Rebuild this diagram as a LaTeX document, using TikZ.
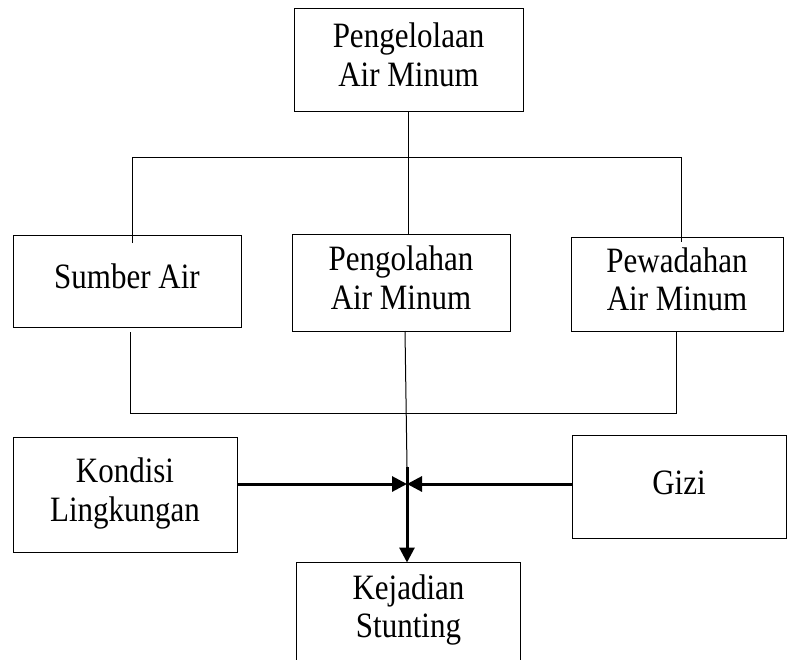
\documentclass[tikz,border=0pt]{standalone}
\usepackage{fontspec}
\usepackage{graphicx}
\setmainfont{Liberation Serif}
\usetikzlibrary{arrows.meta}
\newcommand{\stxt}[1]{\scalebox{1}[1.15]{\begin{tabular}{@{}c@{}}#1\end{tabular}}}
\begin{document}
\begin{tikzpicture}[x=1pt,y=-1pt,
  box/.style={draw, line width=1pt, inner sep=0pt, align=center,
    font=\fontsize{31}{33.5}\selectfont},
  thin/.style={line width=1pt},
  thick/.style={line width=3pt},
  tip/.style={-{Triangle[length=15pt,width=15pt]}}]
\useasboundingbox (0,0) rectangle (787,659);
% boxes
\node[box, minimum width=229pt, minimum height=103pt] (top) at (408.5,59.5) {\stxt{Pengelolaan\\Air Minum}};
\node[box, minimum width=228pt, minimum height=92pt] (sumber) at (127,281) {\raisebox{4pt}{\stxt{Sumber Air}}};
\node[box, minimum width=218pt, minimum height=97pt] (olah) at (401,282.5) {\stxt{Pengolahan\\Air Minum}};
\node[box, minimum width=212pt, minimum height=94pt] (wadah) at (677,284) {\stxt{Pewadahan\\Air Minum}};
\node[box, minimum width=224pt, minimum height=115pt] (kondisi) at (125,494.5) {\stxt{Kondisi\\Lingkungan}};
\node[box, minimum width=214pt, minimum height=103pt] (gizi) at (679,486.5) {\stxt{Gizi}};
\node[box, draw=none, minimum width=223pt, minimum height=96pt] (stunt) at (408.5,611) {\stxt{Kejadian\\Stunting}};
\draw[thin] (stunt.south west) -- (stunt.north west) -- (stunt.north east) -- (stunt.south east);
% upper tree
\coordinate (hl) at (132,157);
\coordinate (hr) at (681,157);
\coordinate (dl) at (132,243);
\coordinate (dr) at (681,242);
\draw[thin] (top.south) -- (top.south |- olah.north);
\draw[thin] (dl) -- (hl) -- (hr) -- (dr);
% lower tree
\coordinate (ul) at (130,332);
\coordinate (bl) at (130,413);
\coordinate (br) at (676,413);
\coordinate (ur) at (676,331);
\coordinate (mj) at (407,484);
\coordinate (mt) at (407,467);
\draw[thin] (ul) -- (bl) -- (br) -- (ur);
\draw[thin] (405,331) -- (mt);
\draw[thick, tip] (mt) -- (mj |- stunt.north);
\draw[thick, tip] (kondisi.east |- mj) -- (mj);
\draw[thick, tip] (gizi.west |- mj) -- (mj);
\end{tikzpicture}
\end{document}
